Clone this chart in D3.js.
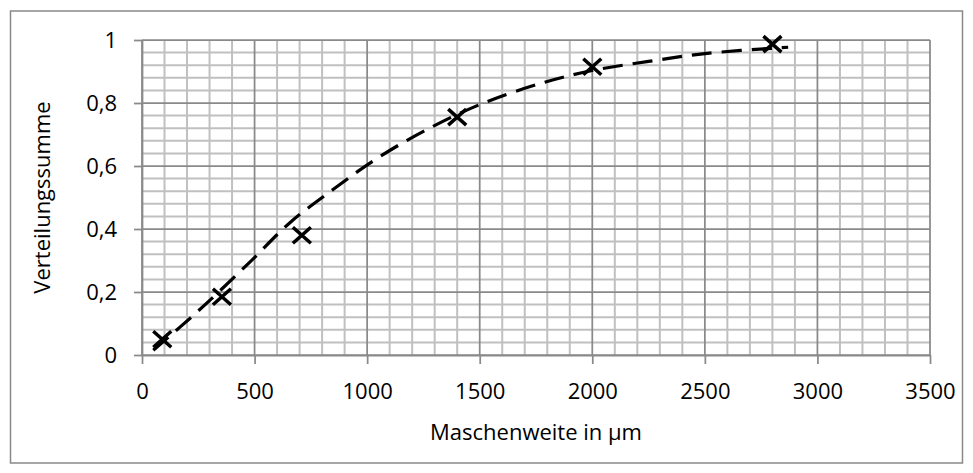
<!DOCTYPE html>
<html>
<head>
<meta charset="utf-8">
<script src="https://cdn.jsdelivr.net/npm/d3@7"></script>
<style>
  body { margin: 0; background: #fff; }
  text { font-family: "Open Sans", "Noto Sans", sans-serif; fill: #000; }
</style>
</head>
<body>
<div id="chart"></div>
<script>
// measured points (sieve sizes vs cumulative distribution)
var meshSizes = [90, 355, 710, 1400, 2000, 2800],
    cumSum = [0.05, 0.185, 0.38, 0.755, 0.915, 0.987];

// dashed fit curve
var fitX = [50, 250, 472, 657, 850, 1035, 1250, 1500, 1770, 2000, 2250, 2500, 2870],
    fitY = [0.015, 0.14, 0.29, 0.42, 0.526, 0.62, 0.71, 0.795, 0.862, 0.903, 0.932, 0.957, 0.977];

var xTicks = [0, 500, 1000, 1500, 2000, 2500, 3000, 3500],
    yTicks = [0, 0.2, 0.4, 0.6, 0.8, 1];

var W = 973, H = 473;
var margin = { top: 40, right: 43, bottom: 118, left: 142 },
    width = W - margin.left - margin.right,
    height = H - margin.top - margin.bottom;

var svg = d3.select("#chart")
  .append("svg")
  .attr("width", W)
  .attr("height", H);

// outer chart frame
svg.append("rect")
  .attr("x", 10.5)
  .attr("y", 11)
  .attr("width", 952)
  .attr("height", 452)
  .attr("fill", "none")
  .attr("stroke", "#898989")
  .attr("stroke-width", 1.5);

var g = svg.append("g")
  .attr("transform", "translate(" + margin.left + "," + margin.top + ")");

var x = d3.scaleLinear().domain([0, 3500]).range([0, width]);
var y = d3.scaleLinear().domain([0, 1]).range([height, 0]);

var locale = d3.formatLocale({ decimal: ",", thousands: "", grouping: [3], currency: ["", ""] });
var fmtY = locale.format("~g");

// minor grid
g.append("g")
  .selectAll("line")
  .data(d3.range(0, 3501, 100).filter(function(d) { return d % 500 != 0; }))
  .enter().append("line")
  .attr("x1", function(d) { return x(d); })
  .attr("x2", function(d) { return x(d); })
  .attr("y1", 0).attr("y2", height)
  .attr("stroke", "#c0c0c0").attr("stroke-width", 2);

g.append("g")
  .selectAll("line")
  .data(d3.range(0, 26).map(function(i) { return i * 0.04; }).filter(function(d, i) { return i % 5 != 0; }))
  .enter().append("line")
  .attr("y1", function(d) { return y(d); })
  .attr("y2", function(d) { return y(d); })
  .attr("x1", 0).attr("x2", width)
  .attr("stroke", "#c0c0c0").attr("stroke-width", 2);

// major grid
g.append("g")
  .selectAll("line")
  .data(xTicks)
  .enter().append("line")
  .attr("x1", function(d) { return x(d); })
  .attr("x2", function(d) { return x(d); })
  .attr("y1", 0).attr("y2", height)
  .attr("stroke", "#8a8a8a").attr("stroke-width", 1.75);

g.append("g")
  .selectAll("line")
  .data(yTicks)
  .enter().append("line")
  .attr("y1", function(d) { return y(d); })
  .attr("y2", function(d) { return y(d); })
  .attr("x1", 0).attr("x2", width)
  .attr("stroke", "#8a8a8a").attr("stroke-width", 1.75);

// axes
var xAxis = g.append("g")
  .attr("transform", "translate(0," + height + ")")
  .call(d3.axisBottom(x).tickValues(xTicks).tickSize(9).tickSizeOuter(0).tickPadding(19).tickFormat(d3.format("d")));
var yAxis = g.append("g")
  .call(d3.axisLeft(y).tickValues(yTicks).tickSize(8).tickSizeOuter(0).tickPadding(17).tickFormat(fmtY));

[xAxis, yAxis].forEach(function(a) {
  a.attr("font-size", null).attr("font-family", null);
  a.select(".domain").attr("stroke", "#8a8a8a").attr("stroke-width", 1.75);
  a.selectAll(".tick line").attr("stroke", "#8a8a8a").attr("stroke-width", 1.75);
  a.selectAll(".tick text")
    .style("font-size", "22px")
    .attr("fill", "#000");
});

// fit curve
g.append("path")
  .datum(d3.zip(fitX, fitY))
  .attr("fill", "none")
  .attr("stroke", "#000")
  .attr("stroke-width", 3.2)
  .attr("stroke-dasharray", "20 10")
  .attr("d", d3.line()
    .x(function(d) { return x(d[0]); })
    .y(function(d) { return y(d[1]); })
    .curve(d3.curveCatmullRom));

// markers
g.append("g")
  .selectAll("path")
  .data(d3.zip(meshSizes, cumSum))
  .enter().append("path")
  .attr("transform", function(d) { return "translate(" + x(d[0]) + "," + y(d[1]) + ")"; })
  .attr("d", "M-9,-8L9,8M-9,8L9,-8")
  .attr("stroke", "#000")
  .attr("stroke-width", 3.5)
  .attr("fill", "none");

// axis titles
svg.append("text")
  .attr("text-anchor", "middle")
  .attr("x", margin.left + width / 2)
  .attr("y", 440)
  .style("font-size", "22px")
  .text("Maschenweite in µm");

svg.append("text")
  .attr("text-anchor", "middle")
  .attr("transform", "translate(50," + (margin.top + height / 2) + ")rotate(-90)")
  .style("font-size", "22px")
  .text("Verteilungssumme");
</script>
</body>
</html>
